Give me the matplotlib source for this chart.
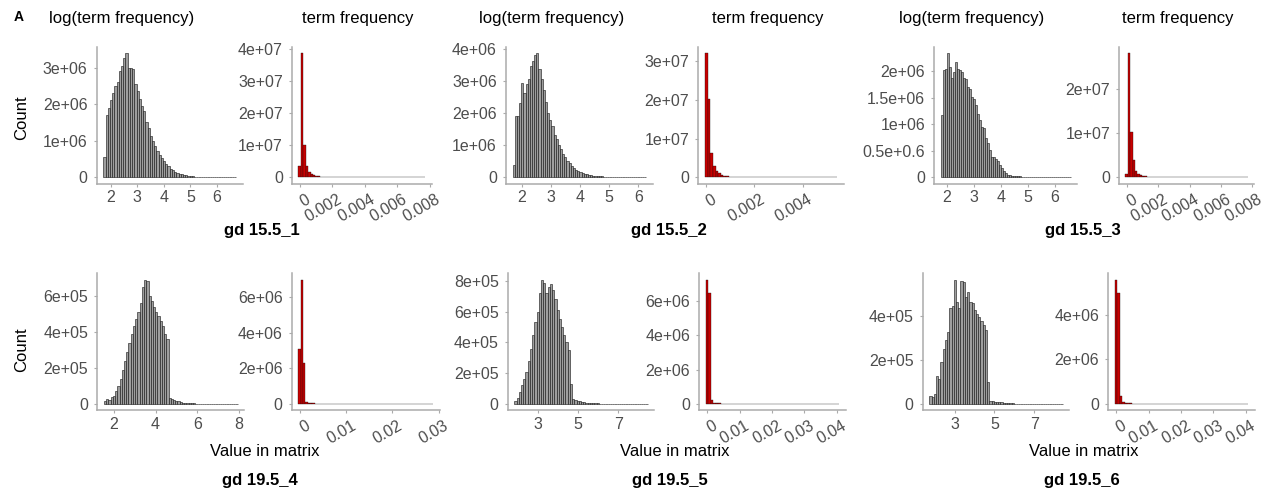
import numpy as np
import matplotlib.pyplot as plt
from matplotlib.transforms import ScaledTranslation

plt.rcParams['font.family'] = ['Liberation Sans', 'DejaVu Sans']

# ---- data: pre-binned histogram counts ----
# log(term frequency), counts in 1e6 (row 1) / 1e5 (row 2)
log_15_5_1 = [0.55, 1.70, 1.90, 2.10, 2.30, 2.50, 2.60, 2.90, 3.05, 3.25,
              3.40, 3.00, 2.98, 2.95, 2.55, 2.35, 2.15, 1.95, 1.80, 1.50,
              1.35, 1.12, 0.98, 0.85, 0.72, 0.62, 0.52, 0.44, 0.36, 0.30,
              0.24, 0.19, 0.15, 0.12, 0.10, 0.08, 0.06, 0.05, 0.04, 0.03,
              0.025, 0.02, 0.016, 0.013, 0.011, 0.009, 0.007, 0.006, 0.005, 0.004,
              0.003, 0.003, 0.002, 0.002, 0.002, 0.001, 0.001, 0.001, 0.001, 0.001]
log_15_5_2 = [0.38, 1.92, 1.92, 2.31, 2.94, 2.64, 2.92, 3.08, 3.46, 3.64,
              3.80, 3.88, 3.38, 3.08, 2.72, 2.36, 2.00, 1.80, 1.60, 1.33,
              1.18, 1.00, 0.87, 0.72, 0.62, 0.51, 0.43, 0.36, 0.29, 0.24,
              0.20, 0.16, 0.13, 0.11, 0.09, 0.08, 0.06, 0.05, 0.04, 0.035,
              0.03, 0.025, 0.02, 0.017, 0.014, 0.012, 0.01, 0.008, 0.007, 0.006,
              0.005, 0.004, 0.003, 0.003, 0.002, 0.002, 0.001, 0.001, 0.001, 0.0005,
              0.0005, 0.0005]
log_15_5_3 = [1.17, 2.02, 2.04, 2.34, 2.07, 1.87, 1.98, 2.16, 2.04, 2.02,
              1.98, 1.87, 1.85, 1.70, 1.67, 1.51, 1.48, 1.36, 1.20, 1.08,
              0.95, 0.92, 0.73, 0.64, 0.52, 0.39, 0.38, 0.34, 0.30, 0.24,
              0.17, 0.11, 0.08, 0.05, 0.04, 0.03, 0.025, 0.02, 0.018, 0.015,
              0.012, 0.01, 0.009, 0.008, 0.007, 0.006, 0.005, 0.004, 0.004, 0.003,
              0.003, 0.002, 0.002, 0.002, 0.001, 0.001, 0.001, 0.001, 0.0005, 0.0005,
              0.0005, 0.0005, 0.0005, 0.0005, 0.0005]
log_19_5_4 = [0.15, 0.25, 0.20, 0.35, 0.45, 0.70, 1.00, 1.40, 1.90, 2.40,
              2.90, 3.40, 3.90, 4.30, 4.70, 5.10, 5.60, 6.50, 6.90, 6.80,
              6.00, 5.70, 5.40, 5.10, 4.90, 4.60, 4.30, 3.90, 3.60, 0.30,
              0.25, 0.22, 0.18, 0.14, 0.10, 0.07, 0.05, 0.04, 0.03, 0.025,
              0.02, 0.015, 0.01, 0.008, 0.006, 0.005, 0.004, 0.003, 0.003, 0.002,
              0.002, 0.002, 0.001, 0.001, 0.001, 0.001, 0.001, 0.001, 0.001, 0.001]
log_19_5_5 = [0.17, 0.40, 0.80, 1.20, 1.60, 2.10, 2.80, 3.60, 4.50, 5.30,
              6.00, 7.20, 8.10, 7.85, 7.20, 7.60, 7.80, 7.40, 6.80, 6.10,
              5.50, 5.00, 4.50, 4.00, 3.50, 1.30, 0.30, 0.25, 0.20, 0.15,
              0.12, 0.10, 0.08, 0.06, 0.05, 0.04, 0.03, 0.02, 0.015, 0.01,
              0.008, 0.006, 0.005, 0.004, 0.003, 0.003, 0.002, 0.002, 0.002, 0.001,
              0.001, 0.001, 0.001, 0.001, 0.001, 0.001, 0.001, 0.001, 0.001, 0.001]
log_19_5_6 = [0.34, 0.30, 0.46, 1.25, 1.15, 1.90, 2.50, 2.90, 3.30, 4.40,
              4.45, 5.68, 4.65, 4.40, 5.60, 5.57, 4.90, 5.10, 4.65, 4.60,
              4.30, 4.10, 3.95, 3.80, 3.60, 3.35, 1.00, 0.15, 0.12, 0.10,
              0.09, 0.08, 0.06, 0.05, 0.04, 0.03, 0.02, 0.015, 0.01, 0.008,
              0.006, 0.005, 0.004, 0.003, 0.003, 0.002, 0.002, 0.002, 0.001, 0.001,
              0.001, 0.001, 0.001, 0.001, 0.001, 0.001, 0.001, 0.001, 0.001, 0.001]

# term frequency, counts in 1e7 (row 1) / 1e6 (row 2)
tf_15_5_1 = [0.36, 3.87, 1.02, 0.34, 0.17, 0.10, 0.06, 0.04, 0.03, 0.02,
             0.015, 0.012, 0.01, 0.008, 0.006, 0.005, 0.004, 0.003, 0.003, 0.002,
             0.002, 0.002, 0.001, 0.001, 0.001, 0.001, 0.001, 0.0005, 0.0005, 0.0005,
             0.0005, 0.0005, 0, 0, 0, 0, 0, 0, 0, 0,
             0, 0, 0, 0, 0, 0, 0, 0, 0, 0,
             0, 0]
tf_15_5_2 = [3.21, 2.01, 0.63, 0.29, 0.17, 0.10, 0.06, 0.04, 0.03, 0.02,
             0.015, 0.012, 0.01, 0.008, 0.006, 0.005, 0.004, 0.003, 0.003, 0.002,
             0.002, 0.001, 0.001, 0.001, 0.001, 0.0005, 0.0005, 0.0005, 0.0005, 0.0005,
             0, 0, 0, 0, 0, 0, 0, 0, 0, 0,
             0, 0, 0, 0, 0, 0, 0, 0, 0, 0]
tf_15_5_3 = [0.08, 2.81, 1.02, 0.39, 0.15, 0.08, 0.05, 0.03, 0.02, 0.015,
             0.012, 0.01, 0.008, 0.006, 0.005, 0.004, 0.003, 0.003, 0.002, 0.002,
             0.002, 0.001, 0.001, 0.001, 0.001, 0.0005, 0.0005, 0.0005, 0, 0,
             0, 0, 0, 0, 0, 0, 0, 0, 0, 0,
             0, 0, 0, 0, 0, 0, 0, 0, 0, 0,
             0, 0]
tf_19_5_4 = [3.10, 6.98, 2.29, 0.10, 0.05, 0.03, 0.02, 0.015, 0.01, 0.008,
             0.006, 0.005, 0.004, 0.003, 0.003, 0.002, 0.002, 0.001, 0.001, 0.001,
             0, 0, 0, 0, 0, 0, 0, 0, 0, 0,
             0, 0, 0, 0, 0, 0, 0, 0, 0, 0,
             0, 0, 0, 0, 0, 0, 0, 0, 0, 0,
             0, 0, 0, 0, 0, 0, 0, 0]
tf_19_5_5 = [7.27, 6.51, 0.23, 0.06, 0.03, 0.02, 0.015, 0.01, 0.008, 0.006,
             0.005, 0.004, 0.003, 0.002, 0.002, 0.001, 0.001, 0.001, 0, 0,
             0, 0, 0, 0, 0, 0, 0, 0, 0, 0,
             0, 0, 0, 0, 0, 0, 0, 0, 0, 0,
             0, 0, 0, 0, 0, 0, 0, 0, 0, 0,
             0, 0, 0, 0, 0]
tf_19_5_6 = [5.61, 5.00, 0.34, 0.06, 0.03, 0.02, 0.015, 0.01, 0.008, 0.006,
             0.005, 0.004, 0.003, 0.002, 0.002, 0.001, 0.001, 0.001, 0, 0,
             0, 0, 0, 0, 0, 0, 0, 0, 0, 0,
             0, 0, 0, 0, 0, 0, 0, 0, 0, 0,
             0, 0, 0, 0, 0, 0, 0, 0, 0, 0,
             0, 0, 0, 0, 0]

# bin start / bin width for each histogram
log_bins = {'15.5_1': (1.72, 0.0833), '15.5_2': (1.68, 0.074), '15.5_3': (1.78, 0.074),
            '19.5_4': (1.52, 0.107), '19.5_5': (1.85, 0.11), '19.5_6': (1.72, 0.112)}
tf_bins = {'15.5_1': (-0.000075, 0.00015), '15.5_2': (-0.000055, 0.00011), '15.5_3': (-0.000075, 0.00015),
           '19.5_4': (-0.00025, 0.0005), '19.5_5': (-0.000375, 0.00075), '19.5_6': (-0.000375, 0.00075)}

W, H = 1265, 493
fig = plt.figure(figsize=(W / 100, H / 100), dpi=100)

AXIS_GREY = '#ababab'
TEXT_GREY = '#4d4d4d'
LOG_FILL = '#9e9e9e'
TF_FILL = '#c80000'


def px_axes(left, right, top, bottom):
    """axes placed by pixel extents of its axis lines"""
    return fig.add_axes([left / W, 1 - bottom / H, (right - left) / W, (bottom - top) / H])


def draw_hist(ax, counts, scale, bins, fill, xticks, xlabels, yticks, ylabels, rotate=False):
    counts = np.asarray(counts, dtype=float) * scale
    start, width = bins
    edges = start + width * np.arange(len(counts))
    # red bars are narrow, so a thinner outline keeps the fill visible
    lw = 0.25 if rotate else 0.4
    ax.bar(edges, counts, width=width, align='edge', color=fill, edgecolor='#111111', linewidth=lw)

    # ggplot-like 5% expansion
    lo, hi = start, start + width * len(counts)
    r = hi - lo
    ax.set_xlim(lo - 0.05 * r, hi + 0.05 * r)
    top = counts.max()
    ax.set_ylim(-0.05 * top, 1.05 * top)

    ax.set_xticks(xticks, xlabels)
    ax.set_yticks(yticks, ylabels)
    for side in ['top', 'right']:
        ax.spines[side].set_visible(False)
    for side in ['left', 'bottom']:
        ax.spines[side].set_color(AXIS_GREY)
        ax.spines[side].set_linewidth(1.1)
    ax.tick_params(axis='both', length=2.5, width=0.8, color=AXIS_GREY,
                   labelsize=11.5, labelcolor=TEXT_GREY)
    ax.tick_params(axis='x', pad=2.5)
    ax.tick_params(axis='y', pad=4)
    if rotate:
        ax.tick_params(axis='x', pad=3.5)
        shift = ScaledTranslation(5 / 100, 0, fig.dpi_scale_trans)
        for lab in ax.get_xticklabels():
            lab.set_rotation(30)
            lab.set_ha('right')
            lab.set_va('top')
            lab.set_rotation_mode('anchor')
            lab.set_transform(lab.get_transform() + shift)


# ---- row 1 ----
ax = px_axes(96.7, 242.7, 46.7, 183.5)
draw_hist(ax, log_15_5_1, 1e6, log_bins['15.5_1'], LOG_FILL,
          [2, 3, 4, 5, 6], ['2', '3', '4', '5', '6'],
          [0, 1e6, 2e6, 3e6], ['0', '1e+06', '2e+06', '3e+06'])
ax = px_axes(292, 431.7, 46.7, 183.5)
draw_hist(ax, tf_15_5_1, 1e7, tf_bins['15.5_1'], TF_FILL,
          [0, 0.002, 0.004, 0.006, 0.008], ['0', '0.002', '0.004', '0.006', '0.008'],
          [0, 1e7, 2e7, 3e7, 4e7], ['0', '1e+07', '2e+07', '3e+07', '4e+07'], rotate=True)

ax = px_axes(506, 652.7, 46.7, 183.5)
draw_hist(ax, log_15_5_2, 1e6, log_bins['15.5_2'], LOG_FILL,
          [2, 3, 4, 5, 6], ['2', '3', '4', '5', '6'],
          [0, 1e6, 2e6, 3e6, 4e6], ['0', '1e+06', '2e+06', '3e+06', '4e+06'])
ax = px_axes(698.3, 844, 46.7, 183.5)
draw_hist(ax, tf_15_5_2, 1e7, tf_bins['15.5_2'], TF_FILL,
          [0, 0.002, 0.004], ['0', '0.002', '0.004'],
          [0, 1e7, 2e7, 3e7], ['0', '1e+07', '2e+07', '3e+07'], rotate=True)

ax = px_axes(934.3, 1077.3, 46.7, 183.5)
draw_hist(ax, log_15_5_3, 1e6, log_bins['15.5_3'], LOG_FILL,
          [2, 3, 4, 5, 6], ['2', '3', '4', '5', '6'],
          [0, 0.5e6, 1e6, 1.5e6, 2e6], ['0', '0.5e+0.6', '1e+06', '1.5e+06', '2e+06'])
ax = px_axes(1119.3, 1254.3, 46.7, 183.5)
draw_hist(ax, tf_15_5_3, 1e7, tf_bins['15.5_3'], TF_FILL,
          [0, 0.002, 0.004, 0.006, 0.008], ['0', '0.002', '0.004', '0.006', '0.008'],
          [0, 1e7, 2e7], ['0', '1e+07', '2e+07'], rotate=True)

# ---- row 2 ----
ax = px_axes(97.3, 244.3, 273.3, 410)
draw_hist(ax, log_19_5_4, 1e5, log_bins['19.5_4'], LOG_FILL,
          [2, 4, 6, 8], ['2', '4', '6', '8'],
          [0, 2e5, 4e5, 6e5], ['0', '2e+05', '4e+05', '6e+05'])
ax = px_axes(291.7, 439.5, 273.3, 410)
draw_hist(ax, tf_19_5_4, 1e6, tf_bins['19.5_4'], TF_FILL,
          [0, 0.01, 0.02, 0.03], ['0', '0.01', '0.02', '0.03'],
          [0, 2e6, 4e6, 6e6], ['0', '2e+06', '4e+06', '6e+06'], rotate=True)

ax = px_axes(507.7, 654.3, 273.3, 410)
draw_hist(ax, log_19_5_5, 1e5, log_bins['19.5_5'], LOG_FILL,
          [3, 5, 7], ['3', '5', '7'],
          [0, 2e5, 4e5, 6e5, 8e5], ['0', '2e+05', '4e+05', '6e+05', '8e+05'])
ax = px_axes(699.3, 846, 273.3, 410)
draw_hist(ax, tf_19_5_5, 1e6, tf_bins['19.5_5'], TF_FILL,
          [0, 0.01, 0.02, 0.03, 0.04], ['0', '0.01', '0.02', '0.03', '0.04'],
          [0, 2e6, 4e6, 6e6], ['0', '2e+06', '4e+06', '6e+06'], rotate=True)

ax = px_axes(922.7, 1069.3, 273.3, 410)
draw_hist(ax, log_19_5_6, 1e5, log_bins['19.5_6'], LOG_FILL,
          [3, 5, 7], ['3', '5', '7'],
          [0, 2e5, 4e5], ['0', '2e+05', '4e+05'])
ax = px_axes(1108.3, 1255, 273.3, 410)
draw_hist(ax, tf_19_5_6, 1e6, tf_bins['19.5_6'], TF_FILL,
          [0, 0.01, 0.02, 0.03, 0.04], ['0', '0.01', '0.02', '0.03', '0.04'],
          [0, 2e6, 4e6], ['0', '2e+06', '4e+06'], rotate=True)


# ---- figure texts ----
def ftext(x, y, s, **kw):
    fig.text(x / W, 1 - y / H, s, ha='center', va='center', **kw)


ftext(19, 17, 'A', fontsize=10, fontweight='bold')
for x in [122, 551.5, 971.5]:
    ftext(x, 18, 'log(term frequency)', fontsize=12)
for x in [357.3, 768, 1177.8]:
    ftext(x, 18, 'term frequency', fontsize=12)
for y in [117.5, 350]:
    ftext(21.7, y, 'Count', fontsize=12, rotation=90)
for x, s in zip([261.7, 668.7, 1083.3], ['gd 15.5_1', 'gd 15.5_2', 'gd 15.5_3']):
    ftext(x, 230, s, fontsize=12, fontweight='bold')
for x in [265, 675, 1084]:
    ftext(x, 451, 'Value in matrix', fontsize=12)
for x, s in zip([259.5, 669.5, 1082], ['gd 19.5_4', 'gd 19.5_5', 'gd 19.5_6']):
    ftext(x, 480, s, fontsize=12, fontweight='bold')

fig.savefig('out.png', dpi=100)
